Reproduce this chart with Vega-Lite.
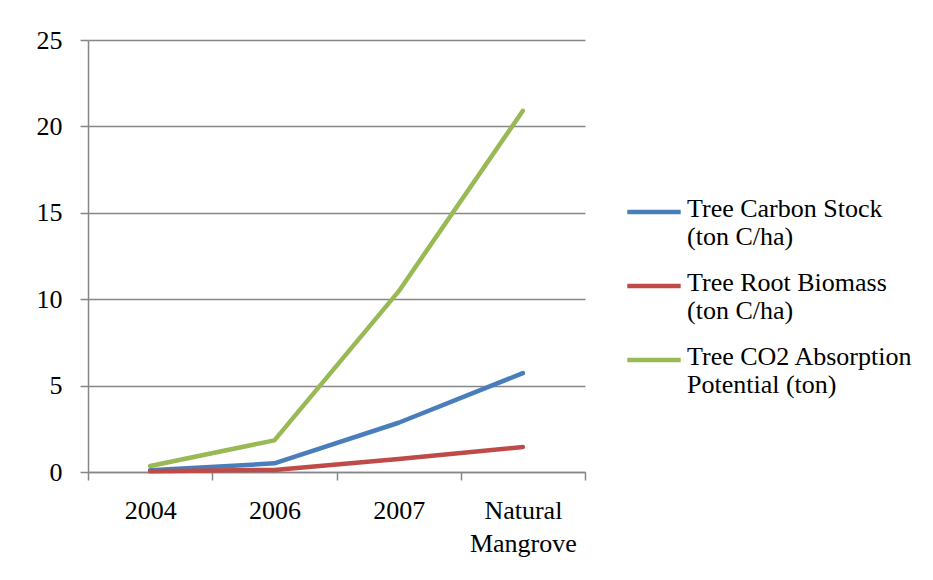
{
  "$schema": "https://vega.github.io/schema/vega-lite/v6.json",
  "width": 497,
  "height": 432,
  "autosize": "none",
  "padding": {"left": 88, "top": 40, "right": 348, "bottom": 108},
  "background": "white",
  "config": {
    "view": {"stroke": null},
    "font": "Liberation Serif"
  },
  "data": {
    "values": [
      {"period": "2004", "series": "Tree Carbon Stock (ton C/ha)", "value": 0.1},
      {"period": "2006", "series": "Tree Carbon Stock (ton C/ha)", "value": 0.5},
      {"period": "2007", "series": "Tree Carbon Stock (ton C/ha)", "value": 2.85},
      {"period": "Natural Mangrove", "series": "Tree Carbon Stock (ton C/ha)", "value": 5.72},
      {"period": "2004", "series": "Tree Root Biomass (ton C/ha)", "value": 0.05},
      {"period": "2006", "series": "Tree Root Biomass (ton C/ha)", "value": 0.12},
      {"period": "2007", "series": "Tree Root Biomass (ton C/ha)", "value": 0.75},
      {"period": "Natural Mangrove", "series": "Tree Root Biomass (ton C/ha)", "value": 1.45},
      {"period": "2004", "series": "Tree CO2 Absorption Potential (ton)", "value": 0.35},
      {"period": "2006", "series": "Tree CO2 Absorption Potential (ton)", "value": 1.83},
      {"period": "2007", "series": "Tree CO2 Absorption Potential (ton)", "value": 10.45},
      {"period": "Natural Mangrove", "series": "Tree CO2 Absorption Potential (ton)", "value": 20.9}
    ]
  },
  "mark": {"type": "line", "strokeWidth": 4.5, "strokeCap": "round", "strokeJoin": "round"},
  "encoding": {
    "x": {
      "field": "period",
      "type": "ordinal",
      "sort": ["2004", "2006", "2007", "Natural Mangrove"],
      "scale": {"type": "band", "paddingInner": 0, "paddingOuter": 0},
      "axis": {
        "title": null,
        "labelAngle": 0,
        "bandPosition": 0,
        "tickBand": "extent",
        "domainColor": "#868686",
        "domainWidth": 1.5,
        "tickColor": "#868686",
        "tickWidth": 1.5,
        "tickSize": 8,
        "labelPadding": 17,
        "labelBaseline": "top",
        "labelFont": "Liberation Serif",
        "labelFontSize": 26,
        "labelColor": "black",
        "labelExpr": "datum.label == 'Natural Mangrove' ? ['Natural', 'Mangrove'] : datum.label",
        "labelLineHeight": 33,
        "grid": false
      }
    },
    "y": {
      "field": "value",
      "type": "quantitative",
      "scale": {"domain": [0, 25], "nice": false},
      "axis": {
        "title": null,
        "values": [0, 5, 10, 15, 20, 25],
        "grid": true,
        "gridColor": "#868686",
        "gridWidth": 1.5,
        "domainColor": "#868686",
        "domainWidth": 1.5,
        "tickColor": "#868686",
        "tickWidth": 1.5,
        "tickSize": 8,
        "labelPadding": 18,
        "labelFont": "Liberation Serif",
        "labelFontSize": 26,
        "labelColor": "black"
      }
    },
    "color": {
      "field": "series",
      "type": "nominal",
      "sort": ["Tree Carbon Stock (ton C/ha)", "Tree Root Biomass (ton C/ha)", "Tree CO2 Absorption Potential (ton)"],
      "scale": {"range": ["#4a7ebb", "#be4b48", "#98b954"]},
      "legend": {
        "title": null,
        "orient": "none",
        "legendX": 537,
        "legendY": 143,
        "symbolType": "stroke",
        "symbolSize": 2850,
        "symbolStrokeWidth": 4.5,
        "labelFont": "Liberation Serif",
        "labelFontSize": 26,
        "labelColor": "black",
        "labelLimit": 300,
        "labelOffset": 4,
        "labelLineHeight": 32,
        "labelBaseline": "top",
        "rowPadding": 7,
        "labelExpr": "datum.label == 'Tree Carbon Stock (ton C/ha)' ? ['Tree Carbon Stock', '(ton C/ha)'] : datum.label == 'Tree Root Biomass (ton C/ha)' ? ['Tree Root Biomass', '(ton C/ha)'] : ['Tree CO2 Absorption', 'Potential (ton)']",
        "encode": {"labels": {"update": {"dy": {"value": -16}}}}
      }
    }
  }
}
